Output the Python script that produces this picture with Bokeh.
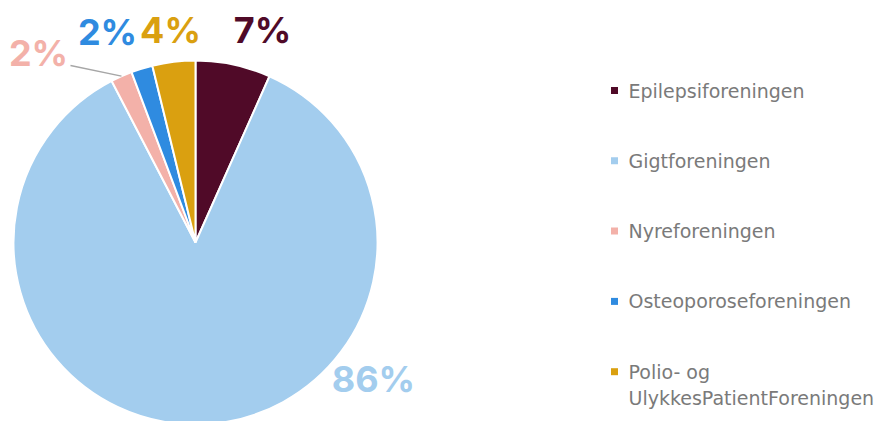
import math
from bokeh.plotting import figure
from bokeh.models import Range1d, ColumnDataSource
from bokeh.core.properties import value
from bokeh.embed import file_html
from bokeh.resources import INLINE

# ---- data ----
categories = ["Epilepsiforeningen", "Gigtforeningen", "Nyreforeningen",
              "Osteoporoseforeningen", "Polio- og\nUlykkesPatientForeningen"]
counts = [7, 90, 2, 2, 4]
colors = ["#500a28", "#a3cdee", "#f3b1a9", "#2f8be0", "#daa010"]

# ---- layout (page pixel coordinates; data y = -page y) ----
W, H = 893, 421
CX, CY, R = 195, 242, 182
label_pos = [(262, 29), (373, 378), (38, 52), (107, 31), (170, 29)]
leader_start = (70, 65)
legend_x, legend_y0, legend_dy, legend_line = 614, 90, 70.3, 26

p = figure(width=W, height=H, output_backend="svg", toolbar_location=None,
           x_range=Range1d(0, W), y_range=Range1d(-H, 0),
           min_border=0)
p.axis.visible = False
p.grid.visible = False
p.outline_line_color = None
p.background_fill_color = "white"
p.border_fill_color = "white"

total = sum(counts)
starts, ends, mids, cum = [], [], [], 0
for c in counts:
    a0 = math.pi / 2 - 2 * math.pi * cum / total
    cum += c
    a1 = math.pi / 2 - 2 * math.pi * cum / total
    starts.append(a0)
    ends.append(a1)
    mids.append((a0 + a1) / 2)

src = ColumnDataSource(dict(x=[CX] * len(counts), y=[-CY] * len(counts),
                            start=starts, end=ends, color=colors))
p.wedge(x="x", y="y", radius=R, start_angle="start", end_angle="end",
        direction="clock", fill_color="color", line_color="white",
        line_width=2, source=src)

# percentage labels
pcts = [f"{round(c / total * 100)}%" for c in counts]
p.text(x=[lx for lx, ly in label_pos], y=[-ly for lx, ly in label_pos],
       text=pcts, text_color=colors, text_font=value("Inter"),
       text_font_style="bold", text_font_size="36px",
       text_align="center", text_baseline="middle")

# leader line to Nyreforeningen slice
i_ny = 2
ex = CX + R * math.cos(mids[i_ny])
ey = CY - R * math.sin(mids[i_ny])
p.line(x=[leader_start[0], ex], y=[-leader_start[1], -ey],
       line_color="#a6a6a6", line_width=1.3)

# legend
mx, my, tx, ty, tt = [], [], [], [], []
for i, name in enumerate(categories):
    yy = legend_y0 + i * legend_dy
    mx.append(legend_x)
    my.append(-yy)
    for j, line in enumerate(name.split("\n")):
        tx.append(legend_x + 14)
        ty.append(-(yy + j * legend_line))
        tt.append(line)
p.rect(x=mx, y=my, width=7, height=7, fill_color=colors, line_color=None)
p.text(x=tx, y=ty, text=tt, text_color="#7a7a7a",
       text_font=value("DejaVu Sans"), text_font_size="19px",
       text_align="left", text_baseline="middle")

open("out.html", "w").write(file_html(p, INLINE))
